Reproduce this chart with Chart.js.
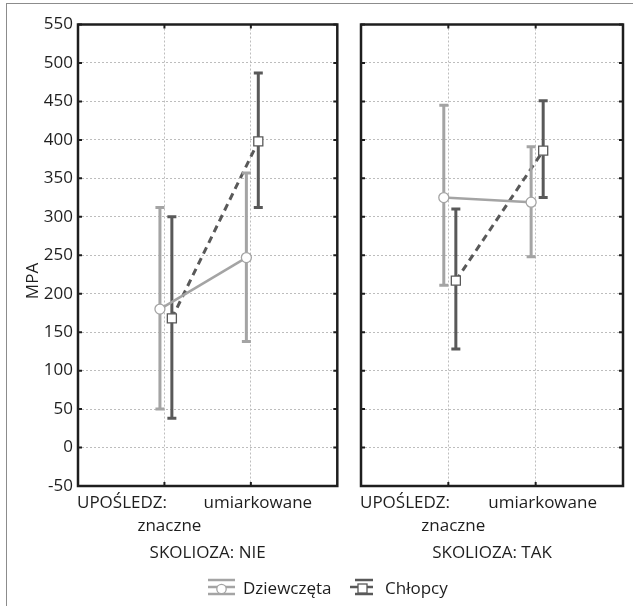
<!DOCTYPE html>
<html lang="pl">
<head>
<meta charset="UTF-8">
<title>MPA</title>
<script src="https://cdn.jsdelivr.net/npm/chart.js"></script>
<style>
    body {
        margin: 0;
        background: #fff;
        font-family: 'Open Sans', sans-serif;
        color: #1e1e1e;
    }

    #wrap {
        position: relative;
        width: 633px;
        height: 606px;
        overflow: hidden;
    }

    #frame {
        position: absolute;
        left: 6px;
        top: 3px;
        right: -5px;
        bottom: -5px;
        border-left: 1px solid #8c8c8c;
        border-top: 1px solid #8c8c8c;
    }

    #c1 { position: absolute; left: 0; top: 0; }
    #c2 { position: absolute; left: 345px; top: 0; }

    .leg {
        position: absolute;
        top: 578px;
        font-size: 17px;
        line-height: 20px;
        white-space: nowrap;
    }

    .leg svg { position: absolute; left: 0; top: 0; }
</style>
</head>
<body>
<div id="wrap">
    <div id="frame"></div>
    <canvas id="c1" width="345" height="606"></canvas>
    <canvas id="c2" width="288" height="606"></canvas>
    <div class="leg" style="left:207px;">
        <svg width="30" height="20">
            <g stroke="#a4a4a4" stroke-width="2.5">
                <line x1="1" y1="2" x2="28" y2="2" />
                <line x1="1" y1="9" x2="28" y2="9" />
                <line x1="1" y1="16" x2="28" y2="16" />
            </g>
            <circle cx="14.5" cy="11" r="4.7" fill="#fff" stroke="#a4a4a4" stroke-width="1.3" />
        </svg>
        <span style="margin-left:36px;">Dziewczęta</span>
    </div>
    <div class="leg" style="left:349px;">
        <svg width="26" height="20">
            <g stroke="#595959" stroke-width="2.5">
                <line x1="6" y1="2" x2="24" y2="2" />
                <line x1="1" y1="9" x2="24" y2="9" />
                <line x1="6" y1="16" x2="24" y2="16" />
            </g>
            <rect x="9" y="6" width="9" height="9" fill="#fff" stroke="#595959" stroke-width="1.3" />
        </svg>
        <span style="margin-left:36px;">Chłopcy</span>
    </div>
</div>
<script>
    // kategorie i panele
    const categories = ['znaczne', 'umiarkowane'];
    const panelTitles = ['SKOLIOZA: NIE', 'SKOLIOZA: TAK'];
    const factorLabel = 'UPOŚLEDZ:';
    const yTitle = 'MPA';

    // SKOLIOZA: NIE
    const girlsMeanNie = [180, 247];
    const girlsLowNie = [50, 138];
    const girlsHighNie = [312, 357];
    const boysMeanNie = [168, 398];
    const boysLowNie = [38, 312];
    const boysHighNie = [300, 487];

    // SKOLIOZA: TAK
    const girlsMeanTak = [325, 319];
    const girlsLowTak = [211, 248];
    const girlsHighTak = [445, 391];
    const boysMeanTak = [217, 386];
    const boysLowTak = [128, 325];
    const boysHighTak = [310, 451];

    const yMin = -50, yMax = 550, yStep = 50;

    const GIRLS = '#a4a4a4';
    const BOYS = '#595959';
    const FONT = "'Open Sans', sans-serif";
    const girlsShift = -0.052;
    const boysShift = 0.086;

    // słupki błędów rysowane pod danym zbiorem
    const errorBars = {
        id: 'errorBars',
        beforeDatasetDraw(chart, args) {
            const ds = chart.data.datasets[args.index];
            const y = chart.scales.y;
            const ctx = chart.ctx;
            ctx.save();
            ctx.strokeStyle = ds.borderColor;
            ctx.lineWidth = 3;
            args.meta.data.forEach((pt, i) => {
                const top = y.getPixelForValue(ds.high[i]);
                const bot = y.getPixelForValue(ds.low[i]);
                ctx.beginPath();
                ctx.moveTo(pt.x, top);
                ctx.lineTo(pt.x, bot);
                ctx.moveTo(pt.x - 4.5, top);
                ctx.lineTo(pt.x + 4.5, top);
                ctx.moveTo(pt.x - 4.5, bot);
                ctx.lineTo(pt.x + 4.5, bot);
                ctx.stroke();
            });
            ctx.restore();
        }
    };

    // ramka, znaczniki i podpisy
    const panelText = {
        id: 'panelText',
        afterDraw(chart, args, opts) {
            const ctx = chart.ctx;
            const a = chart.chartArea;
            const x = chart.scales.x;
            const y = chart.scales.y;
            ctx.save();
            ctx.strokeStyle = '#1e1e1e';
            ctx.lineWidth = 2;
            ctx.beginPath();
            y.ticks.forEach(t => {
                const py = y.getPixelForValue(t.value);
                ctx.moveTo(a.left, py); ctx.lineTo(a.left + 4, py);
                ctx.moveTo(a.right, py); ctx.lineTo(a.right - 4, py);
            });
            x.ticks.forEach(t => {
                const px = x.getPixelForValue(t.value);
                ctx.moveTo(px, a.top); ctx.lineTo(px, a.top + 4);
                ctx.moveTo(px, a.bottom); ctx.lineTo(px, a.bottom - 4);
            });
            ctx.stroke();
            ctx.lineWidth = 2.5;
            ctx.strokeRect(a.left, a.top, a.right - a.left, a.bottom - a.top);

            ctx.fillStyle = '#1e1e1e';
            ctx.font = '17px ' + FONT;
            ctx.textBaseline = 'alphabetic';
            ctx.textAlign = 'left';
            ctx.fillText(factorLabel, a.left - 1, 508);
            ctx.textAlign = 'center';
            ctx.fillText(categories[0], x.getPixelForValue(1) + 5, 531);
            ctx.fillText(categories[1], x.getPixelForValue(2) + 7, 508);
            ctx.fillText(opts.title, (a.left + a.right) / 2, 558);
            if (opts.yTitle) {
                ctx.translate(38, 281);
                ctx.rotate(-Math.PI / 2);
                ctx.fillText(opts.yTitle, 0, 0);
            }
            ctx.restore();
        }
    };

    function series(label, mean, low, high, color, shift, boys) {
        return {
            label: label,
            data: mean.map((v, i) => ({ x: i + 1 + shift, y: v })),
            low: low,
            high: high,
            showLine: true,
            borderColor: color,
            borderWidth: boys ? 3 : 2.5,
            borderDash: boys ? [7, 5] : [],
            pointStyle: boys ? 'rect' : 'circle',
            pointRadius: boys ? 6.4 : 5,
            pointBackgroundColor: '#fff',
            pointBorderColor: color,
            pointBorderWidth: 1.3
        };
    }

    function makePanel(id, title, girls, boys, withLabels, yWidth, padRight) {
        return new Chart(document.getElementById(id), {
            type: 'scatter',
            data: {
                datasets: [
                    series('Dziewczęta', girls[0], girls[1], girls[2], GIRLS, girlsShift, false),
                    series('Chłopcy', boys[0], boys[1], boys[2], BOYS, boysShift, true)
                ]
            },
            options: {
                responsive: false,
                animation: false,
                layout: { padding: { top: 24.5, right: padRight, left: 0, bottom: 0 } },
                plugins: {
                    legend: { display: false },
                    tooltip: { enabled: false },
                    panelText: { title: title, yTitle: withLabels ? yTitle : null }
                },
                scales: {
                    x: {
                        type: 'linear',
                        min: 0,
                        max: 3,
                        afterBuildTicks: s => { s.ticks = [{ value: 1 }, { value: 2 }]; },
                        afterFit: s => { s.height = 120; },
                        ticks: { display: false },
                        grid: { color: '#bdbdbd', lineWidth: 1, drawTicks: false },
                        border: { display: false, dash: [2, 2] }
                    },
                    y: {
                        min: yMin,
                        max: yMax,
                        afterFit: s => { s.width = yWidth; },
                        ticks: {
                            display: withLabels,
                            stepSize: yStep,
                            padding: 5,
                            color: '#1e1e1e',
                            font: { family: FONT, size: 17 }
                        },
                        grid: { color: '#bdbdbd', lineWidth: 1, drawTicks: false },
                        border: { display: false, dash: [2, 2] }
                    }
                }
            },
            plugins: [errorBars, panelText]
        });
    }

    makePanel('c1', panelTitles[0],
        [girlsMeanNie, girlsLowNie, girlsHighNie],
        [boysMeanNie, boysLowNie, boysHighNie], true, 78, 6);
    makePanel('c2', panelTitles[1],
        [girlsMeanTak, girlsLowTak, girlsHighTak],
        [boysMeanTak, boysLowTak, boysHighTak], false, 16, 10);
</script>
</body>
</html>
